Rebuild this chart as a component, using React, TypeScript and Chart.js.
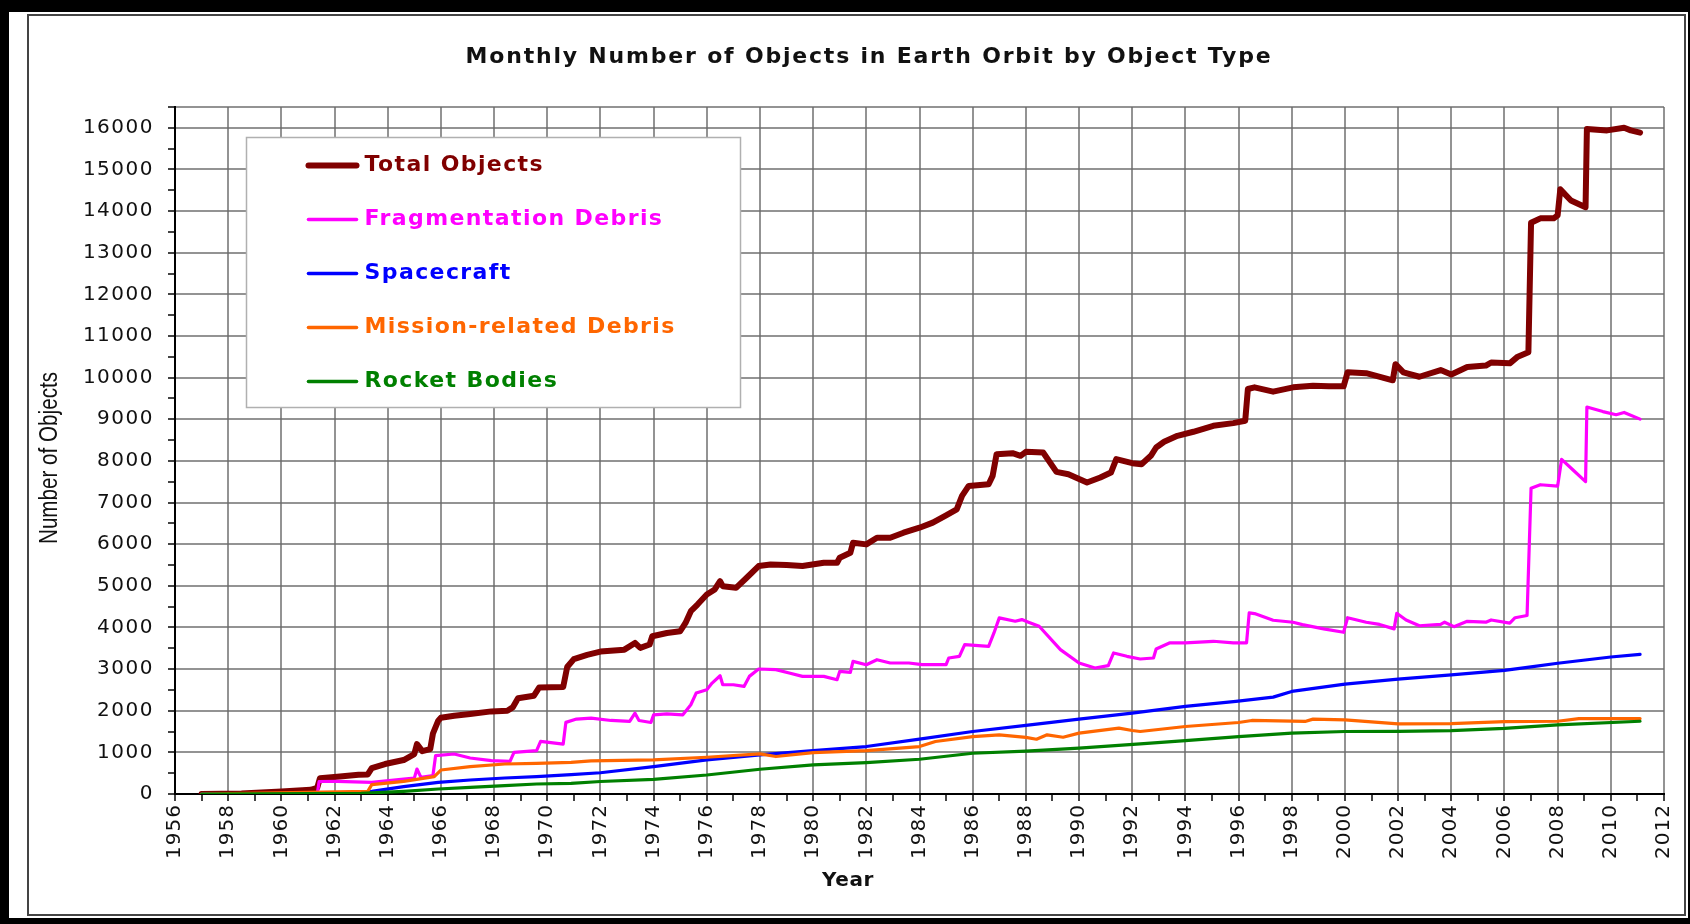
import React, { useEffect, useRef } from 'react';
import { Chart, registerables } from 'chart.js';

Chart.register(...registerables);

const chartTitle = 'Monthly Number of Objects in Earth Orbit by Object Type';
const xAxisTitle = 'Year';
const yAxisTitle = 'Number of Objects';

const seriesLabels = ['Total Objects', 'Fragmentation Debris', 'Spacecraft', 'Mission-related Debris', 'Rocket Bodies'];
const seriesColors = ['#800000', '#ff00ff', '#0000ff', '#ff6600', '#008000'];
const seriesWidths = [6, 3.2, 3.2, 3.2, 3.2];

const yearMin = 1956;
const yearMax = 2012;
const valueMin = 0;
const valueMax = 16500;

const totalYears = [1957.0, 1958.5, 1960.0, 1961.1, 1961.35, 1961.45, 1962.1, 1962.9, 1963.25, 1963.4, 1963.9, 1964.6, 1965.0, 1965.1, 1965.3, 1965.6, 1965.7, 1965.9, 1966.0, 1966.5, 1967.1, 1967.9, 1968.5, 1968.7, 1968.9, 1969.5, 1969.7, 1970.6, 1970.75, 1971.0, 1971.5, 1972.0, 1972.9, 1973.3, 1973.5, 1973.85, 1973.95, 1974.5, 1975.0, 1975.2, 1975.4, 1975.65, 1976.0, 1976.3, 1976.5, 1976.6, 1977.1, 1977.5, 1977.95, 1978.4, 1979.0, 1979.6, 1980.4, 1980.9, 1981.0, 1981.4, 1981.5, 1982.0, 1982.4, 1982.9, 1983.4, 1984.0, 1984.5, 1985.0, 1985.4, 1985.6, 1985.85, 1986.6, 1986.75, 1986.9, 1987.5, 1987.8, 1988.0, 1988.65, 1989.15, 1989.6, 1990.3, 1990.8, 1991.2, 1991.4, 1992.0, 1992.35, 1992.7, 1992.9, 1993.2, 1993.7, 1994.3, 1995.05, 1995.8, 1996.25, 1996.35, 1996.6, 1997.3, 1998.05, 1998.8, 1999.4, 1999.95, 2000.1, 2000.8, 2001.8, 2001.9, 2002.2, 2002.8, 2003.6, 2004.0, 2004.6, 2005.3, 2005.5, 2006.2, 2006.5, 2006.9, 2007.0, 2007.35, 2007.85, 2008.0, 2008.1, 2008.5, 2009.05, 2009.1, 2009.86, 2010.5, 2010.75, 2011.1];
const totalValues = [0, 10, 60, 100, 150, 380, 416, 460, 470, 620, 720, 816, 960, 1200, 1030, 1080, 1450, 1760, 1830, 1880, 1920, 1984, 2000, 2080, 2300, 2360, 2560, 2570, 3050, 3240, 3340, 3420, 3467, 3628, 3510, 3590, 3788, 3868, 3909, 4109, 4390, 4551, 4791, 4912, 5112, 4992, 4952, 5193, 5474, 5514, 5500, 5474, 5554, 5554, 5674, 5795, 6035, 5995, 6156, 6156, 6276, 6396, 6517, 6693, 6838, 7159, 7400, 7440, 7640, 8162, 8186, 8122, 8218, 8202, 7737, 7681, 7480, 7600, 7721, 8042, 7945, 7921, 8122, 8322, 8459, 8603, 8700, 8844, 8908, 8965, 9727, 9767, 9663, 9767, 9807, 9791, 9791, 10128, 10107, 9936, 10322, 10128, 10021, 10182, 10075, 10257, 10289, 10364, 10343, 10504, 10611, 13719, 13826, 13826, 13900, 14523, 14255, 14094, 15970, 15938, 16000, 15938, 15884];

const fragYears = [1957.0, 1961.35, 1961.42, 1962.1, 1963.4, 1964.6, 1965.0, 1965.1, 1965.25, 1965.7, 1965.8, 1966.5, 1967.1, 1967.9, 1968.6, 1968.75, 1969.6, 1969.75, 1970.6, 1970.7, 1971.1, 1971.65, 1972.4, 1973.1, 1973.3, 1973.45, 1973.9, 1974.0, 1974.5, 1975.1, 1975.4, 1975.6, 1976.0, 1976.2, 1976.5, 1976.6, 1977.0, 1977.4, 1977.6, 1977.95, 1978.6, 1979.1, 1979.6, 1980.4, 1980.9, 1981.0, 1981.4, 1981.5, 1982.0, 1982.4, 1982.9, 1983.6, 1984.1, 1985.0, 1985.1, 1985.5, 1985.7, 1986.6, 1986.8, 1987.0, 1987.6, 1987.85, 1988.1, 1988.5, 1989.3, 1990.0, 1990.6, 1991.1, 1991.3, 1991.8, 1992.3, 1992.8, 1992.9, 1993.4, 1994.0, 1995.05, 1995.8, 1996.3, 1996.4, 1996.6, 1997.3, 1998.05, 1998.4, 1999.2, 1999.95, 2000.1, 2000.8, 2001.3, 2001.85, 2001.95, 2002.3, 2002.8, 2003.6, 2003.75, 2004.1, 2004.6, 2005.3, 2005.5, 2006.2, 2006.4, 2006.85, 2007.0, 2007.35, 2008.0, 2008.15, 2008.6, 2009.05, 2009.1, 2009.7, 2010.2, 2010.5, 2011.1];
const fragValues = [0, 0, 300, 304, 280, 360, 380, 600, 400, 440, 920, 960, 864, 800, 784, 1000, 1040, 1264, 1200, 1720, 1800, 1822, 1766, 1742, 1942, 1766, 1717, 1902, 1926, 1902, 2143, 2424, 2504, 2664, 2841, 2624, 2624, 2584, 2825, 3002, 2986, 2905, 2825, 2825, 2745, 2945, 2921, 3186, 3106, 3226, 3146, 3146, 3106, 3106, 3266, 3307, 3587, 3547, 3868, 4230, 4149, 4189, 4125, 4029, 3467, 3146, 3026, 3082, 3387, 3307, 3242, 3266, 3483, 3628, 3628, 3668, 3628, 3628, 4350, 4334, 4173, 4125, 4069, 3965, 3884, 4234, 4126, 4073, 3966, 4341, 4180, 4041, 4073, 4126, 4019, 4148, 4126, 4180, 4105, 4234, 4287, 7342, 7428, 7395, 8038, 7770, 7503, 9293, 9185, 9110, 9164, 9003];

const spacecraftYears = [1957.0, 1960.0, 1962.5, 1963.4, 1964.6, 1965.9, 1967.1, 1968.4, 1969.6, 1970.9, 1972.0, 1974.0, 1976.0, 1978.0, 1980.0, 1982.0, 1984.0, 1986.0, 1988.0, 1990.0, 1992.0, 1994.0, 1995.9, 1997.3, 1998.0, 2000.0, 2002.0, 2004.0, 2006.0, 2007.0, 2008.0, 2010.0, 2011.1];
const spacecraftValues = [0, 5, 20, 64, 176, 280, 336, 384, 416, 464, 510, 658, 819, 939, 1043, 1140, 1316, 1501, 1650, 1798, 1942, 2103, 2223, 2327, 2464, 2640, 2760, 2862, 2969, 3055, 3140, 3290, 3355];

const missionYears = [1957.0, 1963.25, 1963.4, 1964.6, 1965.75, 1966.0, 1967.1, 1968.4, 1969.6, 1970.9, 1971.65, 1974.0, 1976.0, 1978.0, 1978.6, 1980.0, 1982.0, 1984.0, 1984.6, 1986.0, 1987.0, 1988.0, 1988.4, 1988.8, 1989.4, 1990.0, 1991.5, 1992.0, 1992.3, 1994.0, 1996.0, 1996.5, 1998.5, 1998.8, 2000.0, 2002.0, 2004.0, 2006.0, 2008.0, 2008.8, 2011.1];
const missionValues = [0, 64, 224, 304, 416, 576, 656, 720, 736, 760, 795, 819, 883, 963, 900, 995, 1043, 1140, 1260, 1380, 1421, 1360, 1316, 1421, 1364, 1461, 1581, 1525, 1501, 1621, 1717, 1766, 1742, 1798, 1780, 1683, 1690, 1736, 1747, 1811, 1811];

const rocketYears = [1957.0, 1963.0, 1964.6, 1965.9, 1967.1, 1968.4, 1969.6, 1970.9, 1972.0, 1974.0, 1976.0, 1978.0, 1980.0, 1982.0, 1984.0, 1986.0, 1988.0, 1990.0, 1992.3, 1994.0, 1996.0, 1998.0, 2000.0, 2002.0, 2004.0, 2006.0, 2008.0, 2011.1];
const rocketValues = [0, 16, 64, 120, 160, 200, 240, 256, 300, 353, 457, 594, 698, 754, 835, 979, 1030, 1100, 1204, 1284, 1380, 1461, 1501, 1505, 1522, 1575, 1661, 1747];

const seriesYears = [totalYears, fragYears, spacecraftYears, missionYears, rocketYears];
const seriesValues = [totalValues, fragValues, spacecraftValues, missionValues, rocketValues];

const GRID = 'rgba(105,105,105,0.72)';
const TEXT = '#111111';

const decorPlugin = {
  id: 'decor',
  beforeDraw(chart: any) {
    chart.ctx.letterSpacing = '1.5px';
  },
  afterDraw(chart: any) {
    const ctx = chart.ctx as CanvasRenderingContext2D;
    const area = chart.chartArea;
    const xs = chart.scales.x;
    ctx.save();
    ctx.fillStyle = TEXT;

    // x tick labels, rotated to read upwards
    (ctx as any).letterSpacing = '1px';
    ctx.font = '20px "DejaVu Sans"';
    ctx.textAlign = 'right';
    ctx.textBaseline = 'middle';
    xs.ticks.forEach((t: any) => {
      if (Number(t.value) % 2 !== 0) return;
      const px = xs.getPixelForValue(t.value);
      ctx.save();
      ctx.translate(px, area.bottom + 10);
      ctx.rotate(-Math.PI / 2);
      ctx.fillText(String(t.value), 0, 0);
      ctx.restore();
    });

    // y axis title (condensed)
    (ctx as any).letterSpacing = '0px';
    ctx.font = '25px "Liberation Sans"';
    ctx.textAlign = 'center';
    ctx.textBaseline = 'middle';
    const natural = ctx.measureText(yAxisTitle).width;
    ctx.save();
    ctx.translate(50.5, 458);
    ctx.rotate(-Math.PI / 2);
    ctx.scale(172 / natural, 1);
    ctx.fillText(yAxisTitle, 0, 0);
    ctx.restore();

    // chart title
    (ctx as any).letterSpacing = '1.8px';
    ctx.font = 'bold 22px "DejaVu Sans"';
    ctx.textAlign = 'center';
    ctx.fillText(chartTitle, 869, 57);

    // x axis title
    (ctx as any).letterSpacing = '0.6px';
    ctx.font = 'bold 20px "DejaVu Sans"';
    ctx.fillText(xAxisTitle, 848, 881);

    // legend
    const bx = area.left + 71.5;
    const by = area.top + 30.5;
    const bw = 494;
    const bh = 270;
    ctx.fillStyle = '#ffffff';
    ctx.fillRect(bx, by, bw, bh);
    ctx.strokeStyle = '#b0b0b0';
    ctx.lineWidth = 1.5;
    ctx.strokeRect(bx, by, bw, bh);
    (ctx as any).letterSpacing = '1.4px';
    ctx.font = 'bold 22px "DejaVu Sans"';
    ctx.textAlign = 'left';
    chart.data.datasets.forEach((ds: any, i: number) => {
      const y = by + 28 + i * 54;
      ctx.strokeStyle = ds.borderColor;
      ctx.lineWidth = i === 0 ? 6 : 3.6;
      ctx.lineCap = 'round';
      ctx.beginPath();
      ctx.moveTo(bx + 62, y);
      ctx.lineTo(bx + 110, y);
      ctx.stroke();
      ctx.fillStyle = ds.borderColor;
      ctx.fillText(ds.label, bx + 118, y);
    });
    ctx.restore();
  },
};

export default function App() {
  const ref = useRef<HTMLCanvasElement>(null);

  useEffect(() => {
    document.body.style.margin = '0';
    const canvas = ref.current;
    if (!canvas) return;
    const datasets = seriesLabels.map((label, i) => ({
      label,
      data: seriesYears[i].map((x, j) => ({ x, y: seriesValues[i][j] })),
      borderColor: seriesColors[i],
      backgroundColor: seriesColors[i],
      borderWidth: seriesWidths[i],
      pointRadius: 0,
      tension: 0,
      fill: false,
      borderJoinStyle: 'round' as const,
      borderCapStyle: 'round' as const,
      order: seriesLabels.length - i,
    }));
    const chart = new Chart(canvas, {
      type: 'line',
      data: { datasets },
      options: {
        responsive: false,
        animation: false,
        devicePixelRatio: 1,
        layout: { padding: { left: 28, right: 26, top: 107, bottom: 0 } },
        plugins: {
          legend: { display: false },
          title: { display: false },
          tooltip: { enabled: false },
        },
        scales: {
          x: {
            type: 'linear',
            min: yearMin,
            max: yearMax,
            afterFit: (s: any) => { s.height = 130; },
            ticks: {
              display: false,
              stepSize: 1,
              autoSkip: false,
            },
            grid: {
              color: (c: any) => (c.tick && Number(c.tick.value) % 2 === 0 ? GRID : 'rgba(0,0,0,0)'),
              tickColor: '#444444',
              tickLength: 7,
              lineWidth: 2,
            },
            border: { display: true, color: '#000000', width: 2 },
          },
          y: {
            type: 'linear',
            min: valueMin,
            max: valueMax,
            afterFit: (s: any) => { s.width = 147; },
            ticks: {
              stepSize: 500,
              autoSkip: false,
              padding: 14,
              color: TEXT,
              font: { family: 'DejaVu Sans', size: 20 },
              callback: (v: any) => (Number(v) % 1000 === 0 ? String(v) : ''),
            },
            grid: {
              color: (c: any) => {
                const v = c.tick ? Number(c.tick.value) : 1;
                return v % 1000 === 0 || v === valueMax ? GRID : 'rgba(0,0,0,0)';
              },
              tickColor: '#444444',
              tickLength: 7,
              lineWidth: 2,
            },
            border: { display: true, color: '#000000', width: 2 },
          },
        },
      },
      plugins: [decorPlugin],
    });
    return () => chart.destroy();
  }, []);

  return (
    <div style={{ position: 'fixed', left: 0, top: 0, width: 1690, height: 924, background: '#000', overflow: 'hidden' }}>
      <div style={{ position: 'absolute', left: 9, top: 12, width: 1679, height: 906, background: '#fff' }} />
      <div style={{ position: 'absolute', left: 27, top: 14, width: 1659, height: 902, border: '2px solid #444', boxSizing: 'border-box' }} />
      <canvas ref={ref} width={1690} height={924} style={{ position: 'absolute', left: 0, top: 0, width: 1690, height: 924 }} />
    </div>
  );
}
